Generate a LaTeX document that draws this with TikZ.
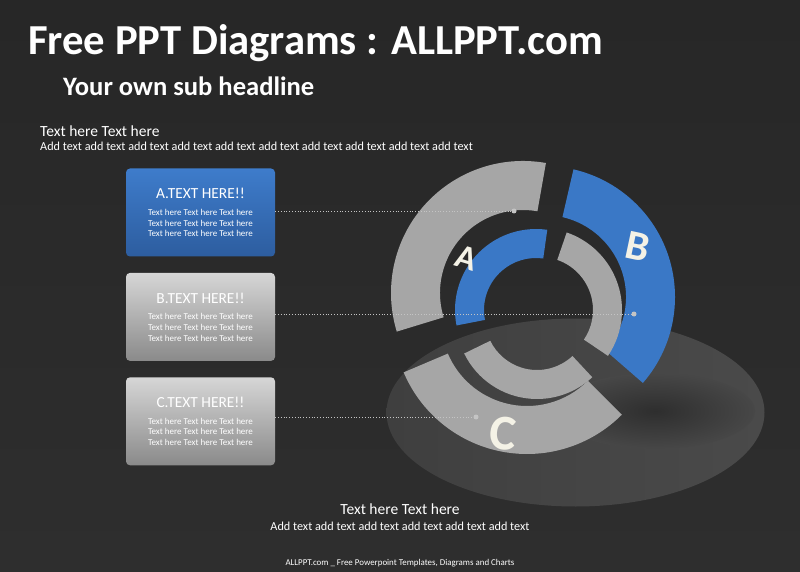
\documentclass[tikz,border=0pt]{standalone}
\usepackage{fontspec}
\setmainfont{Carlito}
\usetikzlibrary{positioning}

\definecolor{bgtop}{HTML}{272727}
\definecolor{bgmid}{HTML}{3F3F3F}
\definecolor{bgbot}{HTML}{2E2E2E}
\definecolor{ellleft}{HTML}{3F3F3F}
\definecolor{ellright}{HTML}{4A4A4A}
\definecolor{ellshadow}{HTML}{2E2E2E}
\definecolor{pptblue}{HTML}{3A78C6}
\definecolor{pptgray}{HTML}{A6A6A6}
\definecolor{boxbluetop}{HTML}{3E7CCB}
\definecolor{boxbluebot}{HTML}{2D5D9F}
\definecolor{boxgraytop}{HTML}{D6D6D6}
\definecolor{boxgraybot}{HTML}{8A8A8A}
\definecolor{linkgray}{HTML}{C4C4C4}
\definecolor{lettercream}{HTML}{F4F2E6}

% ring piece: style, centre, inner radius, outer radius, start angle, end angle
\newcommand{\ringpiece}[6]{%
  \fill[#1] ([shift={#2}]#5:#4) arc[start angle=#5, end angle=#6, radius=#4]
    -- ([shift={#2}]#6:#3) arc[start angle=#6, end angle=#5, radius=#3] -- cycle;}

\begin{document}
\begin{tikzpicture}[
		x=1pt, y=1pt,
		box/.style={rectangle, rounded corners=4pt, minimum width=149pt, minimum height=88pt, inner sep=0pt, align=center, text=white, font=\fontsize{9}{10.7}\selectfont},
		boxblue/.style={box, top color=boxbluetop, bottom color=boxbluebot},
		boxgray/.style={box, top color=boxgraytop, bottom color=boxgraybot},
		link/.style={linkgray, line width=0.8pt, dotted},
		dotmark/.style={circle, fill=linkgray, inner sep=0pt, minimum size=5pt},
		letter/.style={text=lettercream, font=\bfseries\fontsize{34}{34}\selectfont},
		plain/.style={text=white, inner sep=0pt}
		]
		\useasboundingbox (0,0) rectangle (800,571);
		\shade[top color=bgtop, middle color=bgmid, bottom color=bgbot] (0,0) rectangle (800,571);
		
		% shadow under the rings
		\shade[left color=ellleft, right color=ellright] (575.5,158.5) ellipse[x radius=189, y radius=94];
		\shade[inner color=ellshadow, outer color=ellright!96!black] (655,160) ellipse[x radius=100, y radius=38];
		
		% outer ring
		\ringpiece{pptgray}{(523,278)}{83}{132}{80}{197}
		\ringpiece{pptblue}{(544,274)}{82}{131}{-41}{77}
		\ringpiece{pptgray}{(527,251)}{86}{134}{203}{315}
		% inner ring
		\ringpiece{pptblue}{(536,261)}{52}{81}{82}{191}
		\ringpiece{pptgray}{(540,261)}{53}{82}{-34}{71}
		\ringpiece{pptgray}{(537,253)}{52}{81}{206}{313}
		
		\node[plain, anchor=base west, font=\bfseries\fontsize{42.7}{42.7}\selectfont] (title) at (28,516) {Free PPT Diagrams : ALLPPT.com};
		\node[plain, anchor=base west, font=\bfseries\fontsize{26.6}{26.6}\selectfont] (subtitle) at (63,475) {Your own sub headline};
		\node[plain, anchor=base west, font=\fontsize{15.5}{15.5}\selectfont] (lead) at (40,434) {Text here Text here};
		\node[plain, anchor=base west, font=\fontsize{12.2}{12.2}\selectfont] (leadtext) at (40,420) {Add text add text add text add text add text add text add text add text add text add text};
		
		\node[boxblue] (boxA) at (200.5,358.5) {{\fontsize{15.4}{17}\selectfont A.TEXT HERE!!}\\[6pt]Text here Text here Text here\\Text here Text here Text here\\Text here Text here Text here};
		\node[boxgray, below=16pt of boxA] (boxB) {{\fontsize{15.4}{17}\selectfont B.TEXT HERE!!}\\[6pt]Text here Text here Text here\\Text here Text here Text here\\Text here Text here Text here};
		\node[boxgray, below=16pt of boxB] (boxC) {{\fontsize{15.4}{17}\selectfont C.TEXT HERE!!}\\[6pt]Text here Text here Text here\\Text here Text here Text here\\Text here Text here Text here};
		
		\node[dotmark] (dotA) at (514,360) {};
		\node[dotmark] (dotB) at (634,257) {};
		\node[dotmark] (dotC) at (476,154) {};
		\draw[link] (boxA.east |- dotA) -- (dotA);
		\draw[link] (boxB.east |- dotB) -- (dotB);
		\draw[link] (boxC.east |- dotC) -- (dotC);
		
		\node[letter, rotate=-17] (letA) at (467,313) {A};
		\node[letter, rotate=-12, font=\bfseries\fontsize{42}{42}\selectfont] (letB) at (638,324) {B};
		\node[letter, rotate=-5, font=\bfseries\fontsize{50}{50}\selectfont] (letC) at (503,138) {C};
		
		\node[plain, font=\fontsize{15.5}{15.5}\selectfont] (foot) at (400,62) {Text here Text here};
		\node[plain, font=\fontsize{12.2}{12.2}\selectfont] (foottext) at (400,45) {Add text add text add text add text add text add text};
		\node[plain, font=\fontsize{8.9}{8.9}\selectfont] (credit) at (400,8) {ALLPPT.com \_ Free Powerpoint Templates, Diagrams and Charts};
	\end{tikzpicture}
\end{document}
